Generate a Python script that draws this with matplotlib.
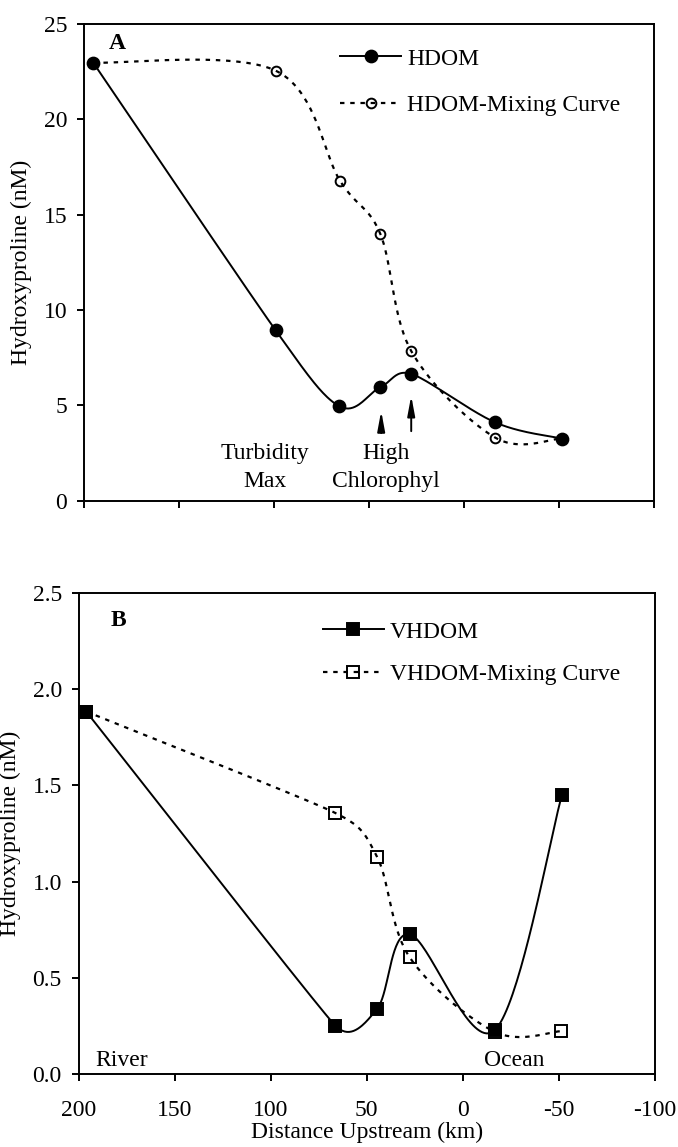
import matplotlib
matplotlib.use('Agg')
import matplotlib.pyplot as plt
import numpy as np

plt.rcParams['font.family'] = ['Liberation Serif', 'DejaVu Serif']
plt.rcParams['font.size'] = 17
plt.rcParams['axes.unicode_minus'] = False

# panel A: HDOM
hdom_km = [195, 99, 65.5, 44, 27.7, -16.6, -51.4]
hdom_val = [22.97, 8.93, 4.95, 5.95, 6.65, 4.1, 3.26]
hdom_mix_km = [195, 99, 65.0, 44, 27.6, -16.6, -51.4]
hdom_mix_val = [22.97, 22.55, 16.75, 14.0, 7.83, 3.3, 3.26]

# panel B: VHDOM
vhdom_km = [196, 66.4, 44.6, 27.7, -16.5, -51.5]
vhdom_val = [1.884, 0.252, 0.339, 0.727, 0.227, 1.448]
vhdom_mix_km = [196, 66.4, 44.6, 27.7, -16.5, -51.3]
vhdom_mix_val = [1.884, 1.357, 1.128, 0.607, 0.22, 0.223]

xticks = [200, 150, 100, 50, 0, -50, -100]
DOT = (0, (2.0, 2.6))


def smooth(ax, x, y, n=40):
    """Excel-like smoothed line: Bezier segments built in pixel space,
    control arms limited to half of the neighbouring segment."""
    p = ax.transData.transform(np.column_stack([x, y]).astype(float))
    m = len(p)
    left = [None] * m   # arm pointing back
    right = [None] * m  # arm pointing forward
    for i in range(m):
        if i == 0:
            right[i] = (p[1] - p[0]) / 6.
            continue
        if i == m - 1:
            left[i] = (p[i] - p[i - 1]) / 6.
            continue
        d01 = np.hypot(*(p[i] - p[i - 1]))
        d12 = np.hypot(*(p[i + 1] - p[i]))
        d02 = np.hypot(*(p[i + 1] - p[i - 1]))
        f = min(1 / 6., d12 / (2 * d02), d01 / (2 * d02))
        arm = (p[i + 1] - p[i - 1]) * f
        left[i] = arm
        right[i] = arm
    t = np.linspace(0, 1, n)[1:, None]
    pts = [p[0]]
    for i in range(m - 1):
        p1, p2 = p[i], p[i + 1]
        c1 = p1 + right[i]
        c2 = p2 - left[i + 1]
        seg = (1 - t)**3 * p1 + 3 * (1 - t)**2 * t * c1 + 3 * (1 - t) * t**2 * c2 + t**3 * p2
        pts.extend(seg)
    return ax.transData.inverted().transform(np.array(pts))


def series(ax, x, y, dotted, marker, filled, ms, label, z):
    c = smooth(ax, x, y)
    ls = DOT if dotted else '-'
    lw = 1.6 if dotted else 1.4
    ax.plot(c[:, 0], c[:, 1], color='black', lw=lw, ls=ls, zorder=z)
    mfc = 'black' if filled else 'none'
    ax.plot(x, y, ls='none', marker=marker, ms=ms, mec='black', mew=1.4,
            mfc=mfc, zorder=z + 1)
    # proxy for legend
    ax.plot([], [], color='black', lw=lw, ls=ls, marker=marker, ms=ms,
            mec='black', mew=1.4, mfc=mfc, label=label)


def style(ax):
    ax.set_xlim(200, -100)
    ax.set_xticks(xticks)
    for s in ax.spines.values():
        s.set_linewidth(1.4)
    ax.tick_params(direction='out', length=5, width=1.4, pad=7, labelsize=17)


fig = plt.figure(figsize=(6.78, 11.47), dpi=100)
ax1 = fig.add_axes([0.1235, 0.5635, 0.841, 0.4156])
ax2 = fig.add_axes([0.1158, 0.0636, 0.8503, 0.4194])

# --- panel A
style(ax1)
ax1.set_ylim(0, 25)
ax1.set_yticks([0, 5, 10, 15, 20, 25])
ax1.set_xticklabels([])
series(ax1, hdom_mix_km, hdom_mix_val, True, 'o', False, 7, 'HDOM-Mixing Curve', 2)
series(ax1, hdom_km, hdom_val, False, 'o', True, 8.5, 'HDOM', 4)
ax1.set_ylabel('Hydroxyproline (nM)', labelpad=8)
ax1.text(182.5, 23.95, 'A', fontweight='bold', ha='center', va='center', fontsize=17)
ax1.text(104.5, 1.74, 'Turbidity\nMax', ha='center', va='center', linespacing=1.45)
ax1.text(40.8, 1.74, 'High\nChlorophyl', ha='center', va='center', linespacing=1.45)
ax1.annotate('', xy=(43.5, 4.85), xytext=(43.5, 3.4),
             arrowprops=dict(arrowstyle='-|>,head_width=0.13,head_length=0.7', color='black', lw=1.4))
ax1.annotate('', xy=(27.7, 5.65), xytext=(27.7, 3.5),
             arrowprops=dict(arrowstyle='-|>,head_width=0.13,head_length=0.7', color='black', lw=1.4))
h, l = ax1.get_legend_handles_labels()
ax1.legend([h[1], h[0]], [l[1], l[0]], loc='upper left', bbox_to_anchor=(0.4285, 0.974),
           frameon=False, handlelength=2.6, handletextpad=0.25, labelspacing=1.05,
           borderpad=0, fontsize=17)

# --- panel B
style(ax2)
ax2.set_ylim(0, 2.5)
ax2.set_yticks([0, 0.5, 1.0, 1.5, 2.0, 2.5])
ax2.set_yticklabels(['0.0', '0.5', '1.0', '1.5', '2.0', '2.5'])
ax2.set_xticklabels([str(v) for v in xticks])
ax2.tick_params(axis='x', pad=14)
series(ax2, vhdom_mix_km, vhdom_mix_val, True, 's', False, 8, 'VHDOM-Mixing Curve', 2)
series(ax2, vhdom_km, vhdom_val, False, 's', True, 8.5, 'VHDOM', 4)
ax2.set_ylabel('Hydroxyproline (nM)', labelpad=8)
ax2.set_xlabel('Distance Upstream (km)', labelpad=0)
ax2.text(179.3, 2.355, 'B', fontweight='bold', ha='center', va='center', fontsize=17)
ax2.text(191, 0.07, 'River', ha='left', va='center')
ax2.text(-26.5, 0.07, 'Ocean', ha='center', va='center')
h, l = ax2.get_legend_handles_labels()
ax2.legend([h[1], h[0]], [l[1], l[0]], loc='upper left', bbox_to_anchor=(0.403, 0.966),
           frameon=False, handlelength=2.6, handletextpad=0.25, labelspacing=0.88,
           borderpad=0, fontsize=17)

fig.savefig('out.png', dpi=100)
